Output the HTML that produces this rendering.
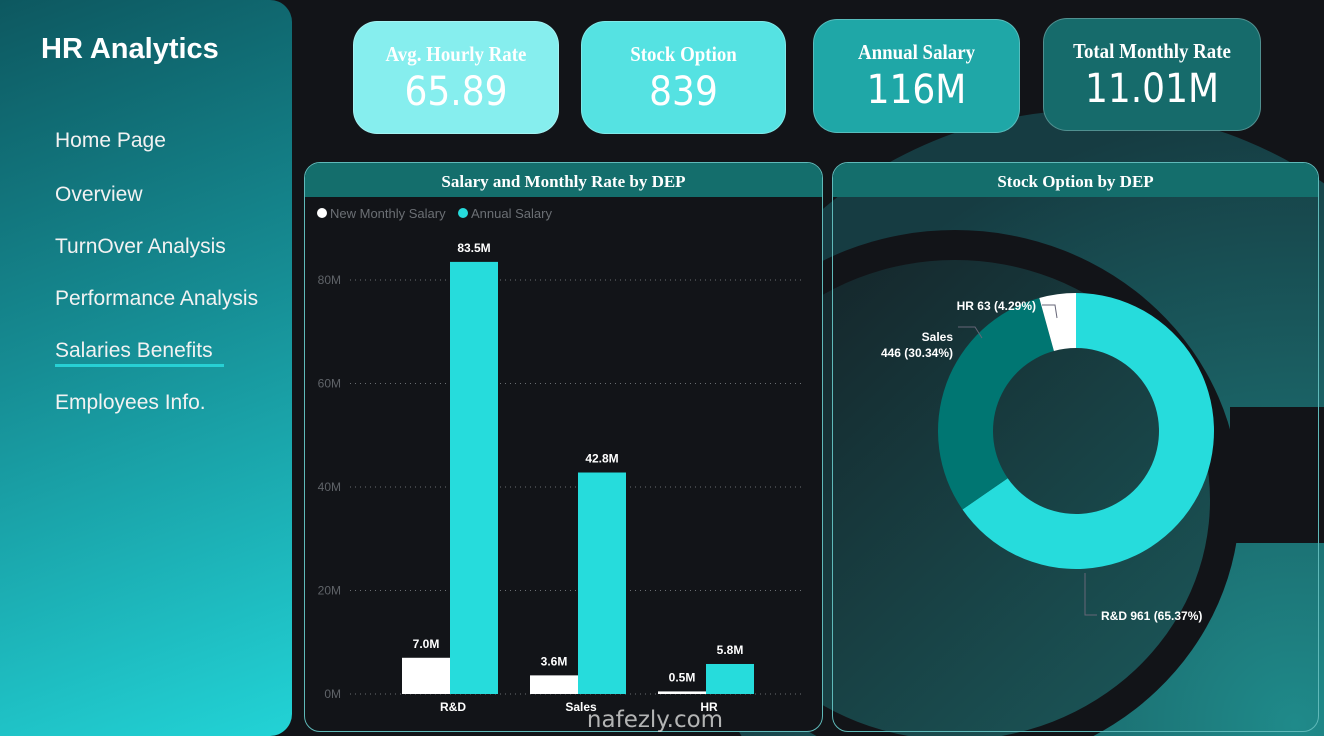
<!DOCTYPE html>
<html><head><meta charset="utf-8">
<style>
*{margin:0;padding:0;box-sizing:border-box}
html,body{width:1324px;height:736px;overflow:hidden}
body{background:#121418;font-family:"Liberation Sans",sans-serif;position:relative}
.abs{position:absolute}
#side{left:0;top:0;width:292px;height:736px;border-radius:0 22px 22px 0;background:linear-gradient(160deg,#0d5860 0%,#168d94 45%,#22d3d6 100%)}
#side h1{position:absolute;left:41px;top:33px;font-size:29px;color:#fff;font-weight:bold}
.nav{position:absolute;left:55px;font-size:21px;color:#f2f2f2}
.card{position:absolute;border-radius:24px;color:#fff;text-align:center;border:1px solid rgba(255,255,255,0.25)}
.card .t{font-family:"Liberation Serif",serif;font-weight:bold;font-size:21px;margin-top:20px;transform:scaleX(0.9)}
.card .v{font-family:"DejaVu Sans Condensed","DejaVu Sans",sans-serif;font-size:40px;margin-top:2px}
.panel{position:absolute;border:1px solid #5fb9b9;border-radius:16px;overflow:hidden}
.ptitle{height:34px;background:#146e6c;color:#fff;font-family:"Liberation Serif",serif;font-weight:bold;font-size:17px;text-align:center;line-height:38px}
</style></head><body>
<svg class="abs" style="left:0;top:0" width="1324" height="736">
<defs>
<radialGradient id="bg1" cx="0.75" cy="0.75" r="0.75"><stop offset="0" stop-color="#1f8a8a"/><stop offset="1" stop-color="#163c42"/></radialGradient>
<linearGradient id="bg2" x1="0" y1="0" x2="1" y2="1"><stop offset="0" stop-color="#141f24"/><stop offset="1" stop-color="#1b5a5c"/></linearGradient>
</defs>
<circle cx="1090" cy="520" r="410" fill="url(#bg1)"/>
<ellipse cx="955" cy="500" rx="285" ry="270" fill="#121418"/>
<ellipse cx="955" cy="500" rx="255" ry="240" fill="url(#bg2)"/>
<rect x="1230" y="407" width="94" height="136" fill="#121418"/>
</svg>
<div id="side" class="abs">
<h1>HR Analytics</h1>
<div class="nav" style="top:129px">Home Page</div>
<div class="nav" style="top:183px">Overview</div>
<div class="nav" style="top:235px">TurnOver Analysis</div>
<div class="nav" style="top:287px">Performance Analysis</div>
<div class="nav" style="top:339px">Salaries Benefits</div>
<div class="abs" style="left:55px;top:364px;width:169px;height:3px;background:#27d0d4"></div>
<div class="nav" style="top:391px">Employees Info.</div>
</div>
<div class="card" style="left:353px;top:21px;width:206px;height:113px;background:#86eeee"><div class="t">Avg. Hourly Rate</div><div class="v">65.89</div></div>
<div class="card" style="left:581px;top:21px;width:205px;height:113px;background:#55e2e2"><div class="t">Stock Option</div><div class="v">839</div></div>
<div class="card" style="left:813px;top:19px;width:207px;height:114px;background:#1fa7a7"><div class="t">Annual Salary</div><div class="v">116M</div></div>
<div class="card" style="left:1043px;top:18px;width:218px;height:113px;background:#166b6b"><div class="t">Total Monthly Rate</div><div class="v">11.01M</div></div>

<div class="panel" style="left:304px;top:162px;width:519px;height:570px;background:#121418">
<div class="ptitle">Salary and Monthly Rate by DEP</div>
</div>
<div class="panel" style="left:832px;top:162px;width:487px;height:570px">
<div class="ptitle">Stock Option by DEP</div>
</div>
<svg id="chart" class="abs" style="left:0;top:0" width="1324" height="736"></svg>
<script>
const categories=["R&D","Sales","HR"];
const monthlyValues=[7.0,3.6,0.5];
const annualValues=[83.5,42.8,5.8];
const yTicks=[0,20,40,60,80];
const donutLabels=["R&D","Sales","HR"];
const donutValues=[961,446,63];
const NS="http://www.w3.org/2000/svg";
const svg=document.getElementById('chart');
function mk(t,a,p){const e=document.createElementNS(NS,t);for(const k in a)e.setAttribute(k,a[k]);(p||svg).appendChild(e);return e;}
const y0=694,pxPerM=5.175;
const yScale=v=>y0-v*pxPerM;
const xCenter=i=>450+i*128;
const bw=48;
let lg=mk('g',{});


mk('circle',{cx:322,cy:213,r:5,fill:'#fff'},lg);
let t=mk('text',{x:330,y:218,fill:'#6b6f74','font-size':13,'font-family':'Liberation Sans'},lg);t.textContent='New Monthly Salary';
mk('circle',{cx:463,cy:213,r:5,fill:'#26dcdc'},lg);
t=mk('text',{x:471,y:218,fill:'#6b6f74','font-size':13,'font-family':'Liberation Sans'},lg);t.textContent='Annual Salary';
yTicks.forEach(v=>{
 const y=yScale(v);
 const l=mk('line',{x1:350,x2:802,y1:y,y2:y,stroke:'#6a6e72','stroke-dasharray':'1 4','stroke-width':1});
 
 
 const tx=mk('text',{x:341,y:y+4,'text-anchor':'end',fill:'#5f6368','font-size':12,'font-family':'Liberation Sans'});
 tx.textContent=v+'M';
 
 
});
categories.forEach((c,i)=>{
 const cx=xCenter(i);
 const m=monthlyValues[i],a=annualValues[i];
 const r1=mk('rect',{x:cx-bw,y:yScale(m),width:bw,height:y0-yScale(m),fill:'#fff'});
 
 
 const r2=mk('rect',{x:cx,y:yScale(a),width:bw,height:y0-yScale(a),fill:'#26dcdc'});
 
 
 let l1=mk('text',{x:cx-bw/2,y:yScale(m)-10,'text-anchor':'middle',fill:'#fff','font-size':12,'font-weight':'bold','font-family':'Liberation Sans'});l1.textContent=m.toFixed(1)+'M';
 
 
 let l2=mk('text',{x:cx+bw/2,y:yScale(a)-10,'text-anchor':'middle',fill:'#fff','font-size':12,'font-weight':'bold','font-family':'Liberation Sans'});l2.textContent=a.toFixed(1)+'M';
 
 
 let cl=mk('text',{x:cx+3,y:711,'text-anchor':'middle',fill:'#fff','font-size':12,'font-weight':'bold','font-family':'Liberation Sans'});cl.textContent=c;
 
 
});
let wm=mk('text',{x:655,y:727,'text-anchor':'middle',fill:'rgba(220,220,220,0.8)','font-size':23,'font-family':'DejaVu Sans'});wm.textContent='nafezly.com';


const dcx=1076,dcy=431,R=138,r=83;
const colors=['#26dcdc','#007672','#ffffff'];
const total=donutValues.reduce((s,v)=>s+v,0);
let ang=-Math.PI/2;
const pt=(rad,a)=>[dcx+rad*Math.cos(a),dcy+rad*Math.sin(a)];
donutValues.forEach((v,i)=>{
 const a2=ang+v/total*2*Math.PI;
 const lf=(a2-ang)>Math.PI?1:0;
 const [x1,y1]=pt(R,ang),[x2,y2]=pt(R,a2),[x3,y3]=pt(r,a2),[x4,y4]=pt(r,ang);
 const p=mk('path',{d:`M${x1},${y1}A${R},${R} 0 ${lf} 1 ${x2},${y2}L${x3},${y3}A${r},${r} 0 ${lf} 0 ${x4},${y4}Z`,fill:colors[i]});
 
 
 ang=a2;
});
const pct=v=>(v/total*100).toFixed(2)+'%';
function lab(x,y,txt,anchor){const e=mk('text',{x:x,y:y,'text-anchor':anchor,fill:'#fff','font-size':12,'font-weight':'bold','font-family':'Liberation Sans'});e.textContent=txt;
 
 }
lab(1036,310,donutLabels[2]+' '+donutValues[2]+' ('+pct(donutValues[2])+')','end');
lab(953,341,donutLabels[1],'end');
lab(953,357,donutValues[1]+' ('+pct(donutValues[1])+')','end');
lab(1101,620,donutLabels[0]+' '+donutValues[0]+' ('+pct(donutValues[0])+')','start');
mk('path',{d:'M1042,305 L1055,305 L1057,318',stroke:'#667',fill:'none'});
mk('path',{d:'M958,327 L975,327 L982,338',stroke:'#667',fill:'none'});
mk('path',{d:'M1085,573 L1085,615 L1097,615',stroke:'#667',fill:'none'});
</script>
</body></html>
